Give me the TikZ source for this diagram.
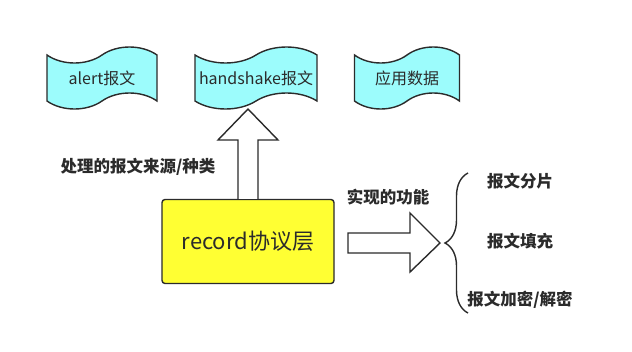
\documentclass[tikz,border=0pt]{standalone}
\usepackage{fontspec}
\setmainfont{Noto Sans CJK SC}
\usetikzlibrary{calc,shapes.symbols,decorations.pathreplacing}
\definecolor{ink}{HTML}{2B2B2B}
\definecolor{tapecyan}{HTML}{9CFCFC}
\definecolor{recyellow}{HTML}{FFFF33}
\tikzset{
  tapebox/.style={
    shape=tape,draw=ink,fill=tapecyan,
    line width=1.4pt,minimum height=62pt,
    tape bend height=16pt,tape bend top=in and out,tape bend bottom=in and out,
    inner sep=0pt,text=ink,font=\fontsize{16}{19}\selectfont
  },
  layerbox/.style={
    rounded corners=3pt,draw=ink,fill=recyellow,
    line width=1.4pt,minimum width=172pt,minimum height=84pt,
    text=ink,font=\fontsize{22}{26}\selectfont
  },
  textlabel/.style={text=ink,font=\bfseries\fontsize{16.5}{19}\selectfont},
  hollow/.style={draw=ink,fill=white,line width=1.4pt,line join=miter},
  bracket/.style={draw=ink,line width=1.4pt,decorate,decoration={brace,amplitude=23pt,aspect=0.5}}
}
\begin{document}
\begin{tikzpicture}[x=1pt,y=-1pt]
\useasboundingbox[fill=white] (0,0) rectangle (632,351);
\node[tapebox,minimum width=110pt] (alert) at (102,78) {alert报文};
\node[tapebox,minimum width=122pt] (hs) at (256,78) {handshake报文};
\node[tapebox,minimum width=105pt] (app) at (407,78) {应用数据};
\node[layerbox] (rec) at (248,241.5) {record协议层};
\coordinate (uptip) at (248,109);
\coordinate (rtip) at (440,243);
\coordinate (btop) at (468,173);
\coordinate (bbot) at (468,313);
\draw[hollow] ($(rec.north)+(-10,0)$) -- ($(uptip)+(-10,31)$) -- ($(uptip)+(-30,31)$) -- (uptip)
  -- ($(uptip)+(30,31)$) -- ($(uptip)+(10,31)$) -- ($(rec.north)+(10,0)$);
\draw[hollow] ($(rtip)+(-92,-10)$) -- ($(rtip)+(-30,-10)$) -- ($(rtip)+(-30,-30)$) -- (rtip)
  -- ($(rtip)+(-30,29)$) -- ($(rtip)+(-30,10)$) -- ($(rtip)+(-92,10)$) -- cycle;
\draw[bracket] (bbot) -- (btop);
\node[textlabel] (src) at (138,167) {处理的报文来源/种类};
\node[textlabel] (fn) at (388,197) {实现的功能};
\node[textlabel] (f1) at (520,181) {报文分片};
\node[textlabel] (f2) at (520,241) {报文填充};
\node[textlabel] (f3) at (520,300) {报文加密/解密};
\end{tikzpicture}
\end{document}
